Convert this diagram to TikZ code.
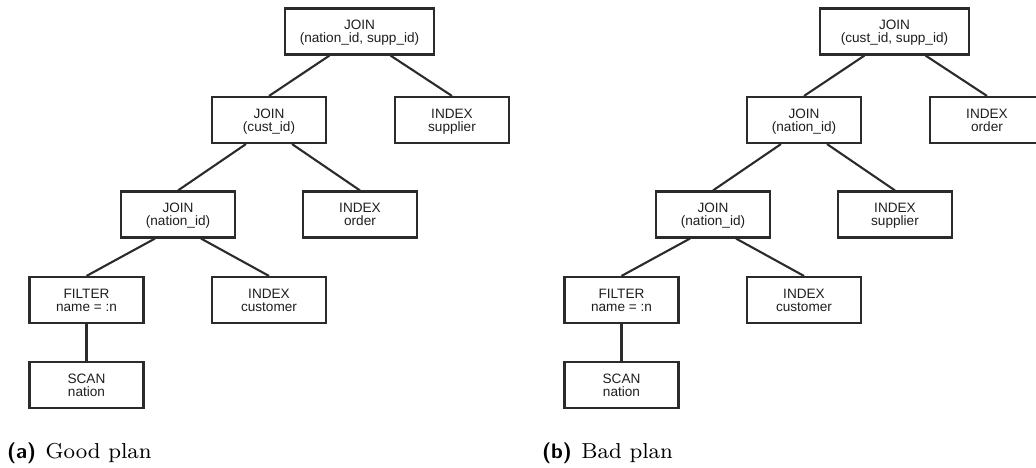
\documentclass[tikz,border=0pt]{standalone}
\usepackage{fontspec}
\newfontfamily\boxfont{Liberation Sans}
\definecolor{linegray}{HTML}{2B2B2B}
\definecolor{textgray}{HTML}{1E1E1E}
\newcommand{\captxt}[2]{{\fontsize{21}{24}\selectfont\sffamily\bfseries #1}\hspace{9.5pt}\scalebox{2.7}{\fontsize{8}{9.6}\selectfont #2}}
\begin{document}
\begin{tikzpicture}[x=1pt,y=-1pt,
  box/.style={draw=linegray, line width=2.1pt, minimum width=114pt, minimum height=46pt,
    inner sep=0pt, align=center, text=textgray, text depth=0pt,
    font=\boxfont\fontsize{13.6}{13}\selectfont},
  wide/.style={minimum width=149pt},
  edge/.style={draw=linegray, line width=2.1pt},
  captext/.style={anchor=base west, inner sep=0pt}]
\useasboundingbox (0,0) rectangle (1036,468);
% ---- (a) Good plan ----
\node[box,wide] (a1) at (359.5,31.5) {JOIN\\(nation\_id, supp\_id)};
\node[box] (a2) at (269,120) {JOIN\\(cust\_id)};
\node[box] (a3) at (452,120) {INDEX\\supplier};
\node[box] (a4) at (178,214.5) {JOIN\\(nation\_id)};
\node[box] (a5) at (360,214.5) {INDEX\\order};
\node[box] (a6) at (86.5,300) {FILTER\\name = :n};
\node[box] (a7) at (269,300) {INDEX\\customer};
\node[box] (a8) at (86.5,385) {SCAN\\nation};
\draw[edge] ([xshift=-30pt]a1.south) -- (a2.north);
\draw[edge] ([xshift=31pt]a1.south) -- (a3.north);
\draw[edge] ([xshift=-23pt]a2.south) -- (a4.north);
\draw[edge] ([xshift=23pt]a2.south) -- (a5.north);
\draw[edge] ([xshift=-23pt]a4.south) -- (a6.north);
\draw[edge] ([xshift=23pt]a4.south) -- (a7.north);
\draw[edge] (a6.south) -- (a8.north);
% ---- (b) Bad plan ----
\node[box,wide] (b1) at (894.5,31.5) {JOIN\\(cust\_id, supp\_id)};
\node[box] (b2) at (804,120) {JOIN\\(nation\_id)};
\node[box] (b3) at (987,120) {INDEX\\order};
\node[box] (b4) at (713,214.5) {JOIN\\(nation\_id)};
\node[box] (b5) at (895,214.5) {INDEX\\supplier};
\node[box] (b6) at (621.5,300) {FILTER\\name = :n};
\node[box] (b7) at (804,300) {INDEX\\customer};
\node[box] (b8) at (621.5,385) {SCAN\\nation};
\draw[edge] ([xshift=-30pt]b1.south) -- (b2.north);
\draw[edge] ([xshift=31pt]b1.south) -- (b3.north);
\draw[edge] ([xshift=-23pt]b2.south) -- (b4.north);
\draw[edge] ([xshift=23pt]b2.south) -- (b5.north);
\draw[edge] ([xshift=-23pt]b4.south) -- (b6.north);
\draw[edge] ([xshift=23pt]b4.south) -- (b7.north);
\draw[edge] (b6.south) -- (b8.north);
% ---- captions ----
\node[captext] (capa) at (7,458) {\captxt{(a)}{Good plan}};
\node[captext] (capb) at (542,458) {\captxt{(b)}{Bad plan}};
\end{tikzpicture}
\end{document}
